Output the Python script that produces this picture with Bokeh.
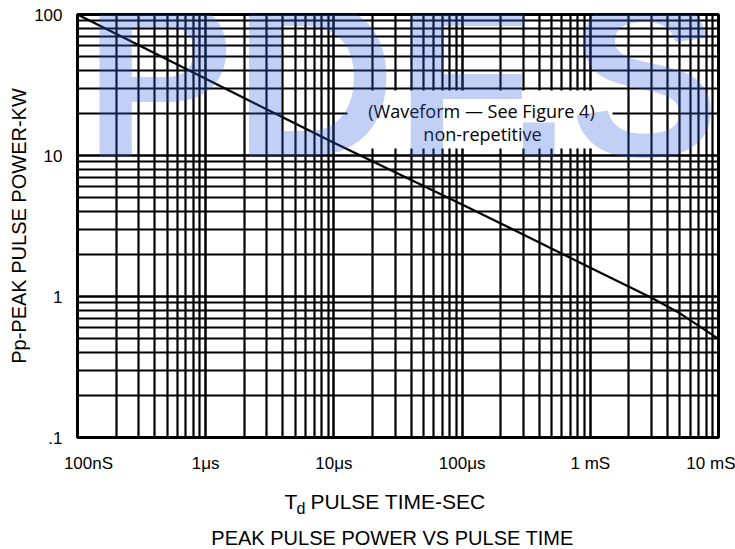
from bokeh.plotting import figure
from bokeh.layouts import column
from bokeh.models import FixedTicker, Label, Range1d, CustomJSTickFormatter, Title
from bokeh.core.properties import value
from bokeh.embed import file_html
from bokeh.resources import INLINE

# ---- data ----
pulse_time_s = [1e-7, 1e-6, 1e-5, 1e-4, 1e-3, 3e-3, 5e-3, 1e-2]
peak_power_kw = [100, 35, 12.3, 4.5, 1.6, 0.98, 0.76, 0.5]

x_tick_values = [1e-7, 1e-6, 1e-5, 1e-4, 1e-3, 1e-2]
x_tick_labels = ["100nS", "1\u03bcs", "10\u03bcs", "100\u03bcs", "1 mS", "10 mS"]
y_tick_values = [0.1, 1, 10, 100]
y_tick_labels = [".1", "1", "10", "100"]

x_minor = [m * 10.0 ** k for k in range(-7, -2) for m in range(2, 10)]
y_minor = [m * 10.0 ** k for k in range(-1, 2) for m in range(2, 10)]

W, H_MAIN, H_BOT = 735, 475, 74
# frame geometry in picture pixels (for placing annotations)
FL, FR, FT, FB = 77, 718, 14, 437


def tx(px):
    return 10 ** (-7 + (px - FL) / (FR - FL) * 5)


def py(px):
    return 10 ** (2 - (px - FT) / (FB - FT) * 3)


p = figure(width=W, height=H_MAIN, x_axis_type="log", y_axis_type="log",
           x_range=Range1d(1e-7, 1e-2), y_range=Range1d(0.1, 100),
           output_backend="svg", toolbar_location=None,
           min_border_left=FL, min_border_right=W - FR, min_border_top=FT,
           min_border_bottom=H_MAIN - FB)
p.background_fill_color = "white"
p.border_fill_color = "white"
p.outline_line_color = "black"
p.outline_line_width = 3

xt = FixedTicker(ticks=x_tick_values, minor_ticks=x_minor)
yt = FixedTicker(ticks=y_tick_values, minor_ticks=y_minor)
p.xgrid.ticker = xt
p.ygrid.ticker = yt
p.yaxis.ticker = yt
# the end labels of the time axis sit slightly inside the frame, as in the reference
x_label_pos = [tx(88)] + x_tick_values[1:-1] + [tx(714)]
p.xaxis.ticker = FixedTicker(ticks=x_label_pos, minor_ticks=[])
for g in (p.xgrid, p.ygrid):
    g.grid_line_color = "black"
    g.grid_line_width = 2.5
    g.grid_line_alpha = 1
    g.minor_grid_line_color = "black"
    g.minor_grid_line_width = 2.2

fmt_code = """
let best = -1, d = 1e9;
for (let i = 0; i < vals.length; i++) {
  const e = Math.abs(Math.log10(vals[i]) - Math.log10(tick));
  if (e < d) { d = e; best = i; }
}
return d < 1e-6 ? labs[best] : "";
"""
p.xaxis.formatter = CustomJSTickFormatter(args=dict(vals=x_label_pos, labs=x_tick_labels), code=fmt_code)
p.yaxis.formatter = CustomJSTickFormatter(args=dict(vals=y_tick_values, labs=y_tick_labels), code=fmt_code)
for ax in (p.xaxis, p.yaxis):
    ax.axis_line_color = None
    ax.major_tick_line_color = None
    ax.minor_tick_line_color = None
    ax.major_label_text_font = "Liberation Sans"
    ax.major_label_text_font_size = "17px"
    ax.major_label_text_color = "black"
p.xaxis.major_label_standoff = 10
p.yaxis.major_label_standoff = 9

# y-axis title
p.add_layout(Title(text="Pp-PEAK PULSE POWER-KW", align="center", offset=-16, standoff=4,
                   text_font="Liberation Sans", text_font_size="20px",
                   text_font_style="normal", text_color="black"), "left")

# white patch behind the annotation text
p.quad(left=[tx(347)], right=[tx(612)], bottom=[py(148)], top=[py(90)],
       fill_color="white", line_color=None)

# curve
p.line(pulse_time_s, peak_power_kw, line_color="black", line_width=2.2)

# annotation
p.add_layout(Label(x=tx(481), y=py(110), text="(Waveform \u2014 See Figure 4)",
                   text_font="Open Sans", text_font_size="18px", text_color="black",
                   text_align="center", text_baseline="middle"))
p.add_layout(Label(x=tx(482), y=py(133), text="non-repetitive",
                   text_font="Open Sans", text_font_size="18px", text_color="black",
                   text_align="center", text_baseline="middle"))

# watermark
p.add_layout(Label(x=tx(84), y=py(77), text="PDF.S", level="overlay",
                   text_font="Liberation Sans", text_font_style="bold",
                   text_font_size="224px", text_color="#3762de", text_alpha=0.3,
                   text_align="left", text_baseline="middle"))

# ---- bottom strip: x-axis title and caption (picture pixel coordinates) ----
# its frame is aligned with the main frame by the column layout
b = figure(width=W, height=H_BOT, x_range=Range1d(FL, FR), y_range=Range1d(H_MAIN + H_BOT, H_MAIN),
           output_backend="svg", toolbar_location=None, x_axis_location=None,
           y_axis_location=None, min_border_left=FL, min_border_right=W - FR,
           min_border_top=0, min_border_bottom=0)
b.grid.visible = False
b.outline_line_color = None
b.background_fill_color = "white"
b.border_fill_color = "white"
lab_font = value("Liberation Sans")
b.text(x=[284], y=[500.5], text=["T"], text_font=lab_font, text_font_size="21px",
       text_color="black", text_align="left", text_baseline="middle")
b.text(x=[296], y=[507.5], text=["d"], text_font=lab_font, text_font_size="16px",
       text_color="black", text_align="left", text_baseline="middle")
b.text(x=[310], y=[500.5], text=["PULSE TIME-SEC"], text_font=lab_font, text_font_size="21px",
       text_color="black", text_align="left", text_baseline="middle")
b.text(x=[392], y=[537], text=["PEAK PULSE POWER VS PULSE TIME"], text_font=lab_font,
       text_font_size="20px", text_color="black", text_align="center", text_baseline="middle")

layout = column(p, b, spacing=0)
open("out.html", "w").write(file_html(layout, INLINE))
